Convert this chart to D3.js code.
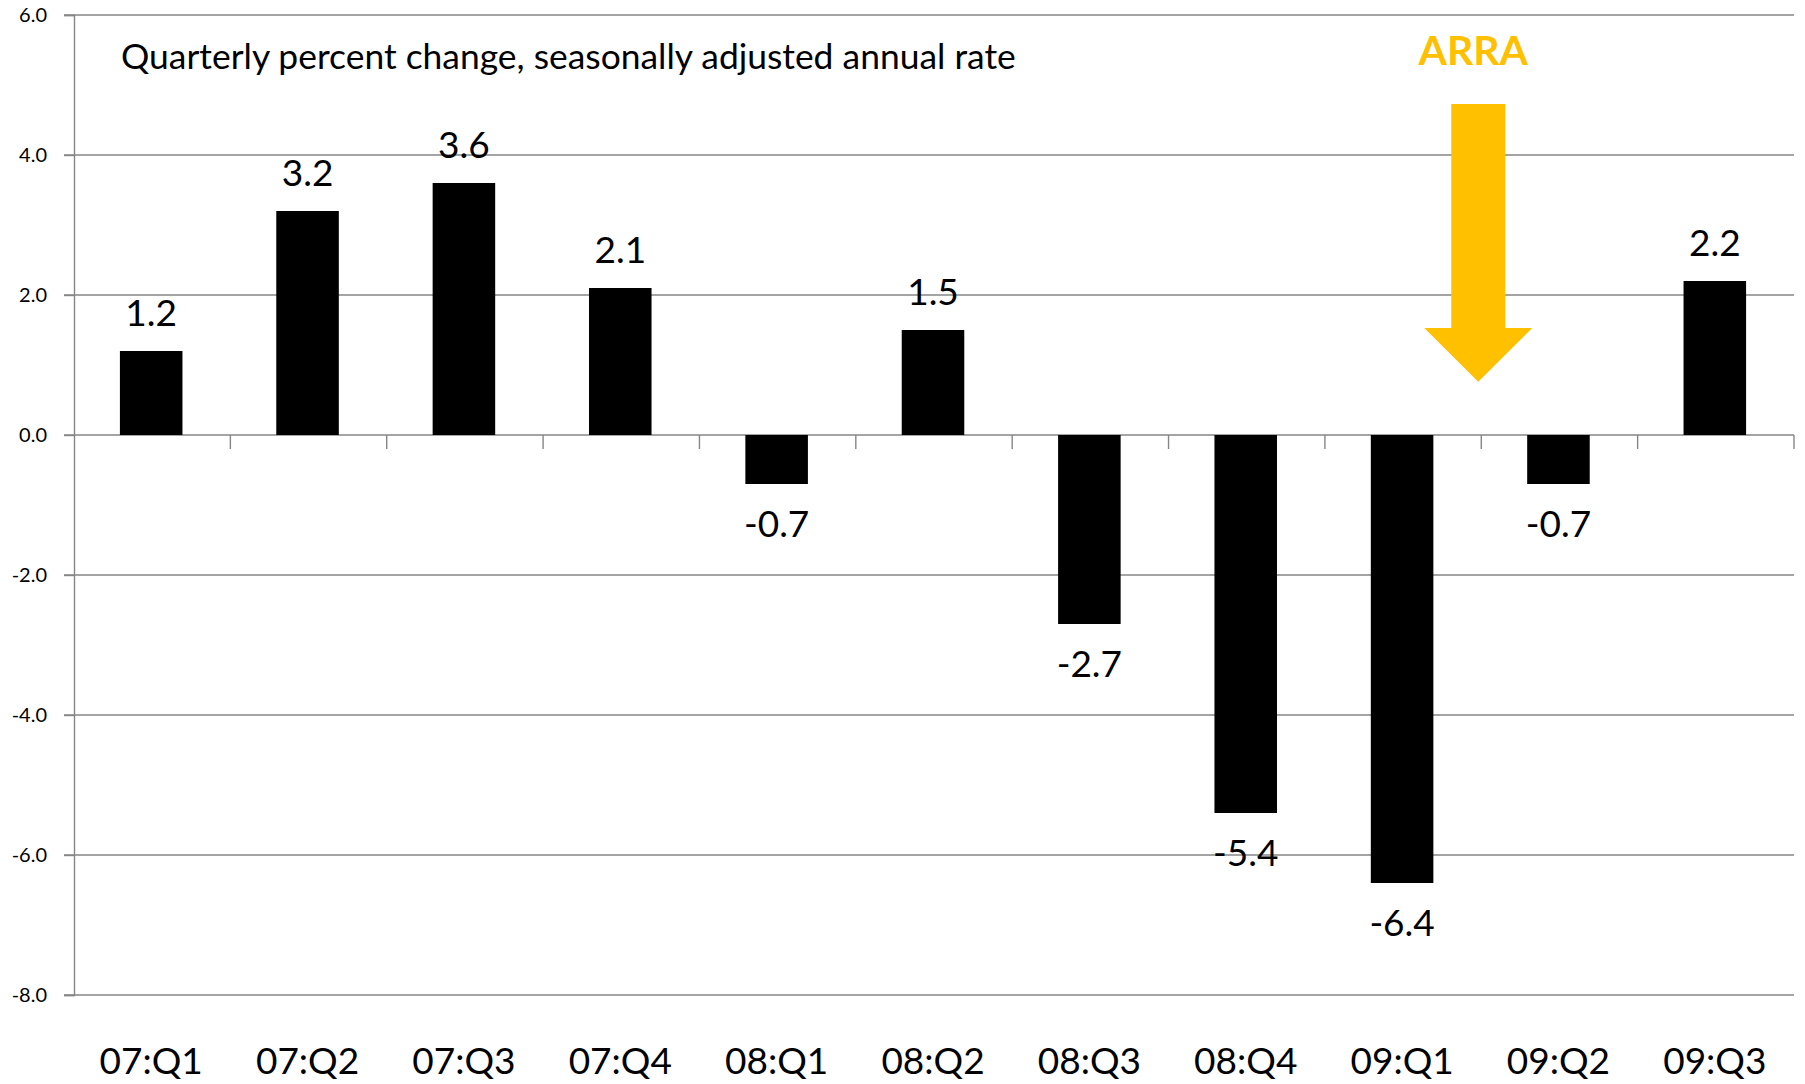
<!DOCTYPE html>
<html>
<head>
<meta charset="utf-8">
<script src="https://cdn.jsdelivr.net/npm/d3@7"></script>
<style>
  body { margin: 0; background: #fff; }
  svg text { font-family: Lato, "Open Sans", sans-serif; fill: #000; }
</style>
</head>
<body>
<div id="chart"></div>
<script>
"use strict";

//-----------------------------DATA-----------------------------//
const quarters = ["07:Q1", "07:Q2", "07:Q3", "07:Q4", "08:Q1", "08:Q2",
                  "08:Q3", "08:Q4", "09:Q1", "09:Q2", "09:Q3"];
const growth = [1.2, 3.2, 3.6, 2.1, -0.7, 1.5, -2.7, -5.4, -6.4, -0.7, 2.2];
const yTicks = [6, 4, 2, 0, -2, -4, -6, -8];
const subtitle = "Quarterly percent change, seasonally adjusted annual rate";
const arraLabel = "ARRA";

//-----------------------------SVG------------------------------//
const width = 1805;
const height = 1084;
const plotLeft = 74, plotRight = 1794, plotTop = 15, plotBottom = 995;
const gridColor = "#868686";
const gold = "#FFC000";

const svg = d3.select("#chart").append("svg")
    .attr("width", width)
    .attr("height", height);

//----------------------------SCALES----------------------------//
const x = d3.scaleBand()
    .domain(quarters)
    .range([plotLeft - 1, plotRight - 1])
    .paddingInner(0.6)
    .paddingOuter(0.3);

const y = d3.scaleLinear()
    .domain([-8, 6])
    .range([plotBottom, plotTop]);

//----------------------------GRID------------------------------//
svg.append("g")
    .selectAll("line")
    .data(yTicks)
    .join("line")
    .attr("x1", plotLeft - 10)
    .attr("x2", plotRight)
    .attr("y1", d => y(d))
    .attr("y2", d => y(d))
    .attr("stroke", gridColor)
    .attr("stroke-width", 1.4);

// y axis (plain hyphen for negatives, like the original)
const yAxis = svg.append("g")
    .attr("transform", `translate(${plotLeft},0)`)
    .call(d3.axisLeft(y).tickValues(yTicks).tickFormat(d => d.toFixed(1))
        .tickSize(10).tickPadding(17));
yAxis.select(".domain").attr("stroke", gridColor).attr("stroke-width", 1.4);
yAxis.selectAll(".tick line").attr("stroke", gridColor).attr("stroke-width", 1.4);
yAxis.selectAll(".tick text")
    .style("font-size", "20px")
    .attr("fill", "#000");

// category ticks on the zero line
svg.append("g")
    .selectAll("line")
    .data(d3.range(1, quarters.length + 1))
    .join("line")
    .attr("x1", i => plotLeft + i * x.step())
    .attr("x2", i => plotLeft + i * x.step())
    .attr("y1", y(0))
    .attr("y2", y(0) + 14)
    .attr("stroke", gridColor)
    .attr("stroke-width", 1.4);

//----------------------------BARS------------------------------//
svg.append("g")
    .selectAll("rect")
    .data(growth)
    .join("rect")
    .attr("x", (d, i) => x(quarters[i]))
    .attr("width", x.bandwidth())
    .attr("y", d => y(Math.max(0, d)))
    .attr("height", d => Math.abs(y(d) - y(0)))
    .attr("fill", "#000");

svg.append("g")
    .selectAll("text")
    .data(growth)
    .join("text")
    .attr("x", (d, i) => x(quarters[i]) + x.bandwidth() / 2)
    .attr("y", d => d >= 0 ? y(d) - 25 : y(d) + 53)
    .attr("text-anchor", "middle")
    .style("font-size", "37px")
    .text(d => d.toFixed(1));

//--------------------------X LABELS----------------------------//
const xAxis = svg.append("g")
    .attr("transform", `translate(0,${plotBottom})`)
    .call(d3.axisBottom(x).tickSize(0).tickPadding(53));
xAxis.select(".domain").remove();
xAxis.selectAll(".tick text")
    .style("font-size", "37px")
    .attr("fill", "#000");

//--------------------------SUBTITLE----------------------------//
const sub = svg.append("text")
    .attr("x", 121)
    .attr("y", 69)
    .style("font-size", "30px")
    .text(subtitle);
// fit to the width used in the original
const subLen = sub.node().getComputedTextLength();
sub.style("font-size", (30 * 895 / subLen).toFixed(2) + "px");

//---------------------------ARRA-------------------------------//
const boundary = plotLeft + 9 * x.step() - 3;
const shaftHalf = 27, headHalf = 54;
const arrowTop = 4.73, headBase = 1.53, arrowTip = 0.76;

svg.append("polygon")
    .attr("points", [
        [boundary - shaftHalf, y(arrowTop)],
        [boundary + shaftHalf, y(arrowTop)],
        [boundary + shaftHalf, y(headBase)],
        [boundary + headHalf, y(headBase)],
        [boundary, y(arrowTip)],
        [boundary - headHalf, y(headBase)],
        [boundary - shaftHalf, y(headBase)]
    ].map(p => p.join(",")).join(" "))
    .attr("fill", gold);

svg.append("text")
    .attr("x", boundary - 5)
    .attr("y", 65)
    .attr("text-anchor", "middle")
    .style("font-size", "41px")
    .style("font-weight", "bold")
    .style("fill", gold)
    .text(arraLabel);
</script>
</body>
</html>
